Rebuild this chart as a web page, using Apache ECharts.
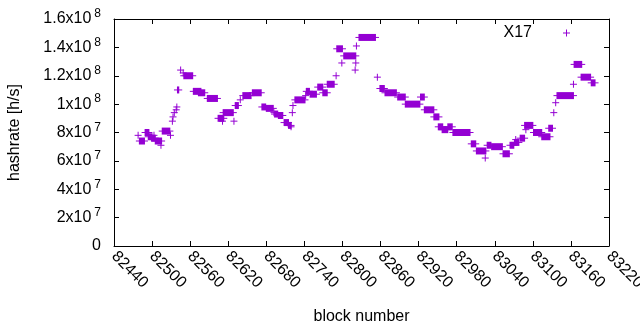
<!DOCTYPE html>
<html>
<head>
<meta charset="utf-8">
<script src="https://cdn.jsdelivr.net/npm/echarts@6/dist/echarts.min.js"></script>
<style>
  html, body { margin: 0; padding: 0; background: #fff; }
  #chart { width: 640px; height: 330px; }
</style>
</head>
<body>
<div id="chart"></div>
<script>
// each run of equal hashrate: first block, last block, value
var blockFrom = [82478, 82480, 82489, 82494, 82499, 82503, 82505, 82514, 82516, 82529,
  82532, 82533, 82535, 82538, 82539, 82540, 82545, 82549, 82550, 82565,
  82573, 82587, 82604, 82611, 82612, 82629, 82631, 82639, 82643, 82658,
  82673, 82680, 82692, 82693, 82699, 82708, 82715, 82719, 82721, 82722,
  82725, 82742, 82743, 82749, 82761, 82769, 82776, 82790, 82791, 82799,
  82802, 82820, 82821, 82822, 82826, 82855, 82859, 82867, 82887, 82899,
  82923, 82929, 82944, 82951, 82957, 82966, 82974, 83003, 83011, 83025,
  83028, 83035, 83053, 83064, 83071, 83073, 83080, 83089, 83087, 83101,
  83114, 83125, 83133, 83136, 83138, 83164, 83165, 83176, 83192];
var blockTo = [82478, 82488, 82495, 82500, 82505, 82503, 82515, 82514, 82528, 82529,
  82532, 82533, 82535, 82538, 82539, 82542, 82545, 82549, 82564, 82577,
  82583, 82603, 82613, 82611, 82628, 82629, 82636, 82639, 82656, 82672,
  82679, 82691, 82692, 82698, 82706, 82715, 82719, 82719, 82721, 82722,
  82741, 82742, 82748, 82759, 82769, 82776, 82787, 82790, 82800, 82799,
  82821, 82820, 82821, 82822, 82852, 82855, 82866, 82885, 82899, 82922,
  82929, 82944, 82952, 82958, 82966, 82973, 83001, 83010, 83026, 83025,
  83034, 83052, 83063, 83070, 83078, 83073, 83087, 83089, 83100, 83114,
  83127, 83131, 83133, 83136, 83164, 83164, 83177, 83191, 83198];
var hashrate = [78e6, 74e6, 80e6, 77e6, 76e6, 78e6, 74e6, 71e6, 81e6, 78e6,
  88e6, 91e6, 94e6, 96e6, 98e6, 110e6, 124e6, 122e6, 120e6, 109e6,
  108e6, 104e6, 90e6, 88e6, 94e6, 88e6, 99e6, 103e6, 106e6, 108e6,
  98e6, 97e6, 94e6, 93e6, 92e6, 87e6, 85e6, 84e6, 94e6, 99e6,
  103e6, 106e6, 109e6, 107e6, 112e6, 108e6, 114e6, 120e6, 139e6, 129e6,
  134e6, 124e6, 129e6, 141e6, 147e6, 119e6, 111e6, 108e6, 105e6, 100e6,
  105e6, 96e6, 91e6, 84e6, 82e6, 84e6, 80e6, 72e6, 67e6, 62e6,
  71e6, 70e6, 65e6, 71e6, 73e6, 75e6, 76e6, 82e6, 85e6, 80e6,
  77e6, 83e6, 94e6, 101e6, 106e6, 114e6, 128e6, 119e6, 115e6];

var xMin = 82440, xMax = 83220, xStep = 60;
var yMax = 1.6e8, yStep = 2e7;

var color = '#9400d3';
var font = '"Liberation Sans", Arial, sans-serif';

var runs = blockFrom.map(function (b, i) {
  return [b, blockTo[i], hashrate[i]];
});

// "1.6x10^8" style labels like gnuplot
function sciLabel(v) {
  if (v === 0) return '{m|0}';
  var exp = Math.floor(Math.log10(v) + 1e-9);
  var man = Math.round(v / Math.pow(10, exp) * 10) / 10;
  return '{m|' + man + 'x10}{s|' + exp + '}';
}

// a run of '+' marks: overlapping vertical arms make a filled box
function renderRun(params, api) {
  var a = api.coord([api.value(0), api.value(2)]);
  var b = api.coord([api.value(1), api.value(2)]);
  var c = api.visual('color');
  return {
    type: 'group',
    children: [
      { type: 'rect', shape: { x: a[0] - 0.5, y: a[1] - 3.5, width: b[0] - a[0] + 1, height: 7 }, style: { fill: c } },
      { type: 'line', shape: { x1: a[0] - 3.5, y1: a[1], x2: b[0] + 3.5, y2: a[1] }, style: { stroke: c, lineWidth: 1 } }
    ]
  };
}

var chart = echarts.init(document.getElementById('chart'), null, { renderer: 'canvas' });

var axisLine = { show: true, onZero: false, lineStyle: { color: '#000', width: 1 } };
var tick = { show: true, inside: true, length: 5, lineStyle: { color: '#000' } };

chart.setOption({
  animation: false,
  backgroundColor: '#fff',
  textStyle: { fontFamily: font },
  grid: { left: 114, right: 31, top: 19, bottom: 84, containLabel: false, outerBoundsMode: 'none' },
  legend: {
    data: [{ name: 'X17', icon: 'path://M0,3L7,3L7,4L0,4Z M3,0L4,0L4,7L3,7Z' }],
    right: 65,
    top: 20,
    align: 'right',
    itemWidth: 7,
    itemHeight: 7,
    itemStyle: { color: color, borderWidth: 0 },
    textStyle: { fontSize: 16, color: '#000', fontFamily: font, padding: [0, 26, 0, 0] }
  },
  xAxis: [{
    type: 'value',
    min: xMin,
    max: xMax,
    interval: xStep,
    name: 'block number',
    nameLocation: 'middle',
    nameGap: 63,
    nameTextStyle: { fontSize: 16, color: '#000', fontFamily: font },
    axisLine: axisLine,
    axisTick: tick,
    splitLine: { show: false },
    axisLabel: {
      rotate: -45,
      margin: 8,
      fontSize: 16,
      color: '#000',
      fontFamily: font,
      showMinLabel: true,
      showMaxLabel: true,
      hideOverlap: false,
      formatter: function (v) { return String(v); }
    }
  }, {
    type: 'value',
    position: 'top',
    min: xMin,
    max: xMax,
    interval: xStep,
    axisLine: axisLine,
    axisTick: tick,
    axisLabel: { show: false },
    splitLine: { show: false }
  }],
  yAxis: [{
    type: 'value',
    min: 0,
    max: yMax,
    interval: yStep,
    name: 'hashrate [h/s]',
    nameLocation: 'middle',
    nameGap: 91,
    nameTextStyle: { fontSize: 16, color: '#000', fontFamily: font },
    axisLine: axisLine,
    axisTick: tick,
    splitLine: { show: false },
    axisLabel: {
      margin: 13,
      color: '#000',
      fontFamily: font,
      formatter: sciLabel,
      rich: {
        m: { fontSize: 16, lineHeight: 16, verticalAlign: 'bottom', color: '#000', fontFamily: font },
        s: { fontSize: 12, lineHeight: 12, verticalAlign: 'bottom', padding: [0, 0, 7, 3], color: '#000', fontFamily: font }
      }
    }
  }, {
    type: 'value',
    position: 'right',
    min: 0,
    max: yMax,
    interval: yStep,
    axisLine: axisLine,
    axisTick: tick,
    axisLabel: { show: false },
    splitLine: { show: false }
  }],
  series: [{
    name: 'X17',
    type: 'custom',
    xAxisIndex: 0,
    yAxisIndex: 0,
    itemStyle: { color: color },
    encode: { x: [0, 1], y: 2 },
    renderItem: renderRun,
    data: runs
  }]
});
</script>
</body>
</html>
